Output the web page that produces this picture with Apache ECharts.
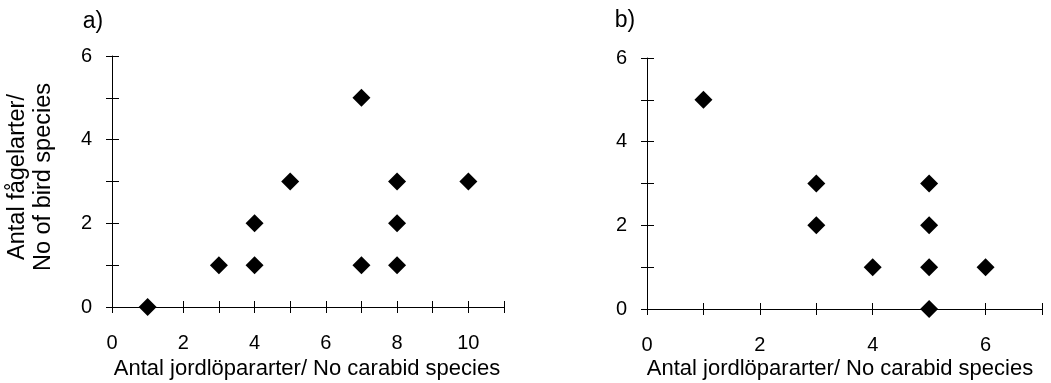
<!DOCTYPE html>
<html>
<head>
<meta charset="utf-8">
<script src="https://cdn.jsdelivr.net/npm/echarts@6/dist/echarts.min.js"></script>
<style>
html,body{margin:0;padding:0;background:#fff;}
#c{width:1051px;height:383px;}
</style>
</head>
<body>
<div id="c"></div>
<script>
// Panel a) carabid species vs bird species
const carabidA = [1, 3, 4, 4, 5, 7, 7, 8, 8, 8, 10];
const birdA    = [0, 1, 1, 2, 3, 5, 1, 1, 2, 3, 3];
// Panel b)
const carabidB = [1, 3, 3, 4, 5, 5, 5, 5, 6];
const birdB    = [5, 3, 2, 1, 3, 2, 1, 0, 1];

const xTickLabelsA = [0, 2, 4, 6, 8, 10];
const xTickLabelsB = [0, 2, 4, 6];
const yTickLabels  = [0, 2, 4, 6];

const xTitle = 'Antal jordlöpararter/ No carabid species';
const yTitle = 'Antal fågelarter/\nNo of bird species';

const FONT = '"Liberation Sans", Arial, sans-serif';
const chart = echarts.init(document.getElementById('c'), null, {renderer: 'canvas'});

function pairs(xs, ys) { return xs.map((x, i) => [x, ys[i]]); }

function xAxes(gridIndex, max, labels) {
  const base = {
    type: 'value', gridIndex, min: 0, max, interval: 1, position: 'bottom',
    splitLine: {show: false}
  };
  return [
    Object.assign({}, base, {
      axisLine: {show: true, lineStyle: {color: '#000', width: 1}},
      axisTick: {show: true, inside: false, length: 6, lineStyle: {color: '#000'}},
      axisLabel: {
        show: true, margin: 26, color: '#000', fontSize: 20, fontFamily: FONT,
        formatter: v => labels.includes(v) ? String(v) : ''
      }
    }),
    Object.assign({}, base, {
      axisLine: {show: false},
      axisTick: {show: true, inside: true, length: 6, lineStyle: {color: '#000'}},
      axisLabel: {show: false}
    })
  ];
}

function yAxes(gridIndex) {
  const base = {
    type: 'value', gridIndex, min: 0, max: 6, interval: 1, position: 'left',
    splitLine: {show: false}
  };
  return [
    Object.assign({}, base, {
      axisLine: {show: true, lineStyle: {color: '#000', width: 1}},
      axisTick: {show: true, inside: false, length: 6, lineStyle: {color: '#000'}},
      axisLabel: {
        show: true, margin: 20, color: '#000', fontSize: 20, fontFamily: FONT,
        formatter: v => yTickLabels.includes(v) ? String(v) : ''
      }
    }),
    Object.assign({}, base, {
      axisLine: {show: false},
      axisTick: {show: true, inside: true, length: 7, lineStyle: {color: '#000'}},
      axisLabel: {show: false}
    })
  ];
}

const textStyle = (text, size) => ({
  text, fill: '#000', font: size + 'px ' + FONT, align: 'center', verticalAlign: 'middle'
});

const marker = {
  symbol: 'diamond', symbolSize: [18, 18],
  itemStyle: {color: '#000', opacity: 1}
};

const option = {
  backgroundColor: '#fff',
  animation: false,
  grid: [
    {left: 112, top: 56, width: 392, height: 251},
    {left: 647, top: 58, width: 395, height: 251}
  ],
  xAxis: [].concat(xAxes(0, 11, xTickLabelsA), xAxes(1, 7, xTickLabelsB)),
  yAxis: [].concat(yAxes(0), yAxes(1)),
  series: [
    Object.assign({type: 'scatter', xAxisIndex: 0, yAxisIndex: 0,
      data: pairs(carabidA, birdA)}, marker),
    Object.assign({type: 'scatter', xAxisIndex: 2, yAxisIndex: 2,
      data: pairs(carabidB, birdB)}, marker)
  ],
  graphic: [
    {type: 'text', x: 93, y: 22, style: textStyle('a)', 23)},
    {type: 'text', x: 625, y: 21, style: textStyle('b)', 23)},
    {type: 'text', x: 307, y: 369, style: textStyle(xTitle, 22)},
    {type: 'text', x: 840, y: 369, style: textStyle(xTitle, 22)},
    {type: 'text', x: 31, y: 177, rotation: Math.PI / 2,
     style: Object.assign(textStyle(yTitle, 23.5), {lineHeight: 26})}
  ]
};
chart.setOption(option);
</script>
</body>
</html>
